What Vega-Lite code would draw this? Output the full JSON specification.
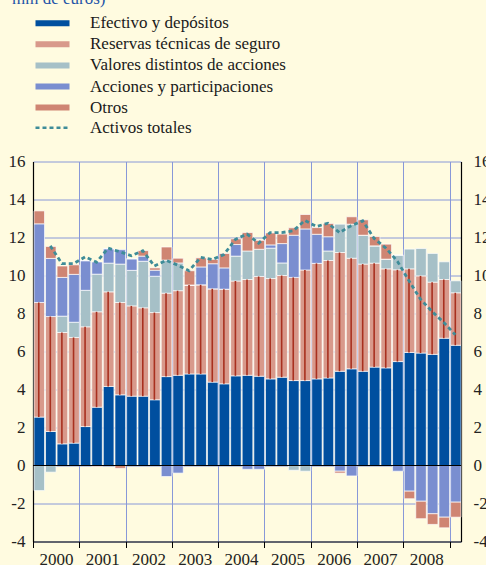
{
  "$schema": "https://vega.github.io/schema/vega-lite/v6.json",
  "width": 428,
  "height": 380,
  "autosize": {"type": "none"},
  "padding": {"left": 33, "top": 161.5, "right": 25, "bottom": 23.5},
  "background": "#FFFBE0",
  "title": {
    "text": "mm de euros)",
    "anchor": "start",
    "frame": "group",
    "orient": "top",
    "offset": -6,
    "dx": -21,
    "font": "Liberation Serif",
    "fontSize": 17,
    "fontWeight": "normal",
    "color": "#1F55A8",
    "baseline": "alphabetic"
  },
  "config": {
    "view": {"stroke": null},
    "axis": {"labelFont": "Liberation Serif", "labelFontSize": 17, "labelFontWeight": "normal", "labelColor": "#222222", "gridColor": "#8898D8", "gridWidth": 1, "gridOpacity": 1, "domainColor": "#000000", "tickColor": "#000000", "labelOverlap": false},
    "legend": {"labelFont": "Liberation Serif", "labelFontSize": 17, "labelFontWeight": "normal", "labelColor": "#1A1A1A", "padding": 0, "labelLimit": 400}
  },
  "datasets": {
    "bars": [
      {"t": "2000-01-01", "s1": 2.55, "s2": 6.03, "s3": -1.32, "s4": 4.14, "s5": 0.68},
      {"t": "2000-04-01", "s1": 1.79, "s2": 6.05, "s3": -0.35, "s4": 3.06, "s5": 0.63},
      {"t": "2000-07-01", "s1": 1.14, "s2": 5.86, "s3": 0.86, "s4": 2.04, "s5": 0.6},
      {"t": "2000-10-01", "s1": 1.18, "s2": 5.56, "s3": 0.8, "s4": 2.52, "s5": 0.5},
      {"t": "2001-01-01", "s1": 2.05, "s2": 5.25, "s3": 1.92, "s4": 1.56, "s5": 0},
      {"t": "2001-04-01", "s1": 3.07, "s2": 5.02, "s3": 1.98, "s4": 0.64, "s5": -0.06},
      {"t": "2001-07-01", "s1": 4.16, "s2": 4.98, "s3": 1.51, "s4": 0.76, "s5": 0},
      {"t": "2001-10-01", "s1": 3.72, "s2": 4.86, "s3": 2.02, "s4": 0.76, "s5": -0.15},
      {"t": "2002-01-01", "s1": 3.65, "s2": 4.75, "s3": 1.87, "s4": 0.61, "s5": 0},
      {"t": "2002-04-01", "s1": 3.65, "s2": 4.65, "s3": 2.45, "s4": 0.27, "s5": 0.29},
      {"t": "2002-07-01", "s1": 3.46, "s2": 4.59, "s3": 1.91, "s4": 0.32, "s5": 0.12},
      {"t": "2002-10-01", "s1": 4.68, "s2": 4.39, "s3": 1.74, "s4": -0.58, "s5": 0.69},
      {"t": "2003-01-01", "s1": 4.75, "s2": 4.45, "s3": 1.46, "s4": -0.4, "s5": 0.25},
      {"t": "2003-04-01", "s1": 4.82, "s2": 4.68, "s3": 0, "s4": 0, "s5": 0.75},
      {"t": "2003-07-01", "s1": 4.82, "s2": 4.69, "s3": 0, "s4": 0.94, "s5": 0.48},
      {"t": "2003-10-01", "s1": 4.39, "s2": 4.91, "s3": 0, "s4": 1.32, "s5": 0.23},
      {"t": "2004-01-01", "s1": 4.3, "s2": 4.98, "s3": 0, "s4": 1.12, "s5": 0.76},
      {"t": "2004-04-01", "s1": 4.72, "s2": 4.99, "s3": 1.31, "s4": 0.61, "s5": 0.3},
      {"t": "2004-07-01", "s1": 4.75, "s2": 5.04, "s3": 1.5, "s4": -0.2, "s5": 0.97},
      {"t": "2004-10-01", "s1": 4.7, "s2": 5.25, "s3": 1.43, "s4": -0.2, "s5": 0.47},
      {"t": "2005-01-01", "s1": 4.56, "s2": 5.28, "s3": 1.6, "s4": 0.17, "s5": 0.63},
      {"t": "2005-04-01", "s1": 4.65, "s2": 5.35, "s3": 0.66, "s4": 1.02, "s5": 0.5},
      {"t": "2005-07-01", "s1": 4.47, "s2": 5.43, "s3": -0.25, "s4": 2.22, "s5": 0.39},
      {"t": "2005-10-01", "s1": 4.47, "s2": 5.82, "s3": -0.3, "s4": 2.16, "s5": 0.76},
      {"t": "2006-01-01", "s1": 4.56, "s2": 6.08, "s3": 0, "s4": 1.53, "s5": 0.35},
      {"t": "2006-04-01", "s1": 4.61, "s2": 6.18, "s3": 0.5, "s4": 0.75, "s5": 0.7},
      {"t": "2006-07-01", "s1": 4.96, "s2": 6.25, "s3": 1.49, "s4": -0.3, "s5": -0.1},
      {"t": "2006-10-01", "s1": 5.09, "s2": 5.82, "s3": 1.79, "s4": -0.55, "s5": 0.39},
      {"t": "2007-01-01", "s1": 4.96, "s2": 5.64, "s3": 1.52, "s4": 0, "s5": 0.81},
      {"t": "2007-04-01", "s1": 5.18, "s2": 5.47, "s3": 0.91, "s4": 0, "s5": 0.49},
      {"t": "2007-07-01", "s1": 5.14, "s2": 5.21, "s3": 0.51, "s4": 0, "s5": 0.79},
      {"t": "2007-10-01", "s1": 5.47, "s2": 4.83, "s3": 0.77, "s4": -0.3, "s5": 0},
      {"t": "2008-01-01", "s1": 5.95, "s2": 4.4, "s3": 1.04, "s4": -1.35, "s5": -0.4},
      {"t": "2008-04-01", "s1": 5.92, "s2": 4.06, "s3": 1.44, "s4": -1.88, "s5": -0.92},
      {"t": "2008-07-01", "s1": 5.85, "s2": 3.8, "s3": 1.51, "s4": -2.54, "s5": -0.56},
      {"t": "2008-10-01", "s1": 6.7, "s2": 3.09, "s3": 0.93, "s4": -2.72, "s5": -0.56},
      {"t": "2009-01-01", "s1": 6.33, "s2": 2.76, "s3": 0.63, "s4": -1.93, "s5": -0.79}
    ],
    "total": [
      {"t": "2000-04-01", "total": 11.56},
      {"t": "2000-07-01", "total": 10.63},
      {"t": "2000-10-01", "total": 10.63},
      {"t": "2001-01-01", "total": 10.98},
      {"t": "2001-04-01", "total": 10.7},
      {"t": "2001-07-01", "total": 11.44},
      {"t": "2001-10-01", "total": 11.25},
      {"t": "2002-01-01", "total": 11.04},
      {"t": "2002-04-01", "total": 11.3},
      {"t": "2002-07-01", "total": 10.5},
      {"t": "2002-10-01", "total": 10.8},
      {"t": "2003-01-01", "total": 10.55},
      {"t": "2003-04-01", "total": 10.25},
      {"t": "2003-07-01", "total": 10.95},
      {"t": "2003-10-01", "total": 10.84},
      {"t": "2004-01-01", "total": 11.1},
      {"t": "2004-04-01", "total": 11.9},
      {"t": "2004-07-01", "total": 12.18},
      {"t": "2004-10-01", "total": 11.7},
      {"t": "2005-01-01", "total": 12.26},
      {"t": "2005-04-01", "total": 12.26},
      {"t": "2005-07-01", "total": 12.35},
      {"t": "2005-10-01", "total": 12.9},
      {"t": "2006-01-01", "total": 12.58},
      {"t": "2006-04-01", "total": 12.75},
      {"t": "2006-07-01", "total": 12.26},
      {"t": "2006-10-01", "total": 12.62},
      {"t": "2007-01-01", "total": 12.88},
      {"t": "2007-04-01", "total": 11.95},
      {"t": "2007-07-01", "total": 11.45},
      {"t": "2007-10-01", "total": 10.75},
      {"t": "2008-01-01", "total": 9.72},
      {"t": "2008-04-01", "total": 8.75},
      {"t": "2008-07-01", "total": 8.1},
      {"t": "2008-10-01", "total": 7.53},
      {"t": "2009-01-01", "total": 6.88}
    ],
    "zero": [{"z": 0}]
  },
  "layer": [
    {
      "data": {"name": "bars"},
      "transform": [
        {"fold": ["s1", "s2", "s3", "s4", "s5"], "as": ["serie", "valor"]},
        {"stack": "valor", "groupby": ["t"], "sort": [{"field": "serie", "order": "ascending"}], "offset": "zero", "as": ["y0", "y1"]}
      ],
      "mark": {"type": "bar", "stroke": "#FFFFFF", "strokeWidth": 0.8, "strokeOpacity": 0.85, "timeUnitBandSize": 0.72, "timeUnitBandPosition": 0.5},
      "encoding": {
        "x": {
          "field": "t", "type": "temporal", "timeUnit": "yearquarter",
          "scale": {"domain": [{"year": 2000, "month": 1, "date": 1}, {"year": 2009, "month": 4, "date": 1}]},
          "axis": {
            "title": null, "orient": "bottom", "grid": true,
            "values": [{"year": 2000}, {"year": 2001}, {"year": 2002}, {"year": 2003}, {"year": 2004}, {"year": 2005}, {"year": 2006}, {"year": 2007}, {"year": 2008}, {"year": 2009}],
            "format": "%Y",
            "labelExpr": "year(datum.value) > 2008 ? '' : datum.label",
            "labelAlign": "center", "labelOffset": 23, "labelPadding": 4,
            "labelFont": "Liberation Serif", "labelFontWeight": "normal",
            "tickSize": 6, "domainWidth": 1.2, "labelFlush": false, "labelOverlap": false
          }
        },
        "y": {
          "field": "y0", "type": "quantitative",
          "scale": {"domain": [-4, 16], "nice": false, "zero": false},
          "axis": {"title": null, "orient": "left", "grid": true, "values": [-4, -2, 0, 2, 4, 6, 8, 10, 12, 14, 16], "labelExpr": "'' + datum.value", "labelOverlap": false, "ticks": false, "labelPadding": 8, "domainWidth": 1.2, "labelFont": "Liberation Serif", "labelFontWeight": "normal"}
        },
        "y2": {"field": "y1"},
        "fill": {
          "field": "serie", "type": "nominal",
          "scale": {"domain": ["s1", "s2", "s3", "s4", "s5"], "range": ["#004F9F", "#D8998B", "#A6C0C7", "#7A8ED0", "#CF8573"]},
          "legend": {
            "title": null, "orient": "none", "legendX": 11, "legendY": -146.8,
            "symbolType": "M-5.667,-1H5.667V1H-5.667Z", "symbolSize": 36, "symbolStrokeWidth": 0,
            "labelOffset": 29, "rowPadding": 3.1,
            "labelExpr": "datum.label == 's1' ? 'Efectivo y depósitos' : datum.label == 's2' ? 'Reservas técnicas de seguro' : datum.label == 's3' ? 'Valores distintos de acciones' : datum.label == 's4' ? 'Acciones y participaciones' : 'Otros'"
          }
        }
      }
    },
    {
      "data": {"name": "bars"},
      "transform": [
        {"fold": ["s1", "s2", "s3", "s4", "s5"], "as": ["serie", "valor"]},
        {"stack": "valor", "groupby": ["t"], "sort": [{"field": "serie", "order": "ascending"}], "offset": "zero", "as": ["y0", "y1"]},
        {"filter": "datum.serie === 's2' && datum.valor > 0"}
      ],
      "mark": {"type": "rule", "color": "#A8301F", "strokeWidth": 1.6},
      "encoding": {
        "x": {"field": "t", "type": "temporal", "timeUnit": "yearquarter", "bandPosition": 0.5},
        "y": {"field": "y0", "type": "quantitative", "axis": null},
        "y2": {"field": "y1"}
      }
    },
    {
      "data": {"name": "zero"},
      "mark": {"type": "rule", "color": "#000000", "strokeWidth": 1.2},
      "encoding": {
        "y": {
          "field": "z", "type": "quantitative",
          "axis": {"title": null, "orient": "right", "grid": false, "values": [-4, -2, 0, 2, 4, 6, 8, 10, 12, 14, 16], "labelExpr": "'' + datum.value", "labelOverlap": false, "ticks": false, "labelPadding": 12, "labelAlign": "left", "domainWidth": 1.2, "labelFont": "Liberation Serif", "labelFontWeight": "normal"}
        }
      }
    },
    {
      "data": {"name": "total"},
      "mark": {"type": "line", "color": "#3E8C98", "strokeWidth": 2.8, "strokeCap": "butt"},
      "encoding": {
        "x": {"field": "t", "type": "temporal", "timeUnit": "yearquarter", "bandPosition": 0.5},
        "y": {"field": "total", "type": "quantitative", "axis": null},
        "strokeDash": {
          "datum": "Activos totales",
          "scale": {"range": [[4, 3]]},
          "legend": {
            "title": null, "orient": "none", "legendX": 11, "legendY": -42.2,
            "symbolType": "M-5.667,0H5.667", "symbolSize": 36, "symbolStrokeWidth": 2.5, "symbolStrokeColor": "#3E8C98",
            "labelOffset": 29
          }
        }
      }
    }
  ],
  "resolve": {"axis": {"y": "independent"}}
}
